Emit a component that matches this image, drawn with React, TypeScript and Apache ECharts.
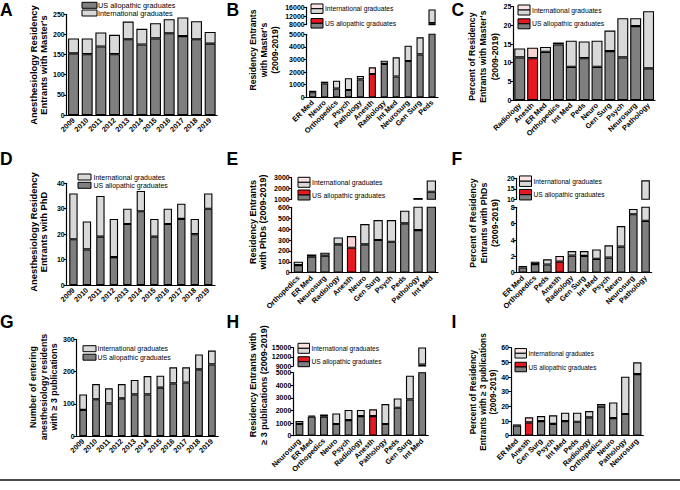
import React, { useEffect, useRef } from 'react';
import * as echarts from 'echarts';

// ---- data ----
const years = ['2009', '2010', '2011', '2012', '2013', '2014', '2015', '2016', '2017', '2018', '2019'];

// A: anesthesiology entrants with master's
const aUS = [153, 151, 170, 151, 188, 175, 190, 203, 196, 188, 177];
const aIntl = [37, 39, 35, 48, 44, 39, 38, 35, 46, 45, 29];

// B: residency entrants with master's by specialty
const bCats = ['ER Med', 'Neuro', 'Orthopedics', 'Psych', 'Pathology', 'Anesth', 'Radiology', 'Int Med', 'Neurosurg', 'Gen Surg', 'Peds'];
const bUS = [400, 1100, 700, 580, 1420, 1850, 2650, 1650, 2880, 3400, 8700];
const bIntl = [120, 140, 620, 930, 270, 530, 260, 1520, 1220, 1360, 6300];

// C: percent with master's
const cCats = ['Radiology', 'Anesth', 'ER Med', 'Orthopedics', 'Int Med', 'Peds', 'Neuro', 'Gen Surg', 'Psych', 'Neurosurg', 'Pathology'];
const cUS = [11.4, 11.2, 12.9, 14.9, 8.9, 11.2, 8.9, 13.1, 11.4, 19.8, 8.5];
const cIntl = [2.4, 2.8, 1.3, 0.5, 7.0, 4.5, 7.0, 5.5, 10.5, 2.1, 15.3];

// D: anesthesiology entrants with PhD
const dUS = [18, 14, 19, 11, 24, 29, 19, 24, 26, 20, 30];
const dIntl = [18, 11, 16, 15, 6, 8, 7, 6, 6, 6, 6];

// E: residency entrants with PhDs
const eCats = ['Orthopedics', 'ER Med', 'Neurosurg', 'Radiology', 'Anesth', 'Neuro', 'Gen Surg', 'Psych', 'Peds', 'Pathology', 'Int Med'];
const eUS = [70, 147, 156, 260, 229, 260, 300, 284, 453, 391, 1700];
const eIntl = [31, 21, 27, 64, 107, 186, 183, 199, 116, 729, 1050];

// F: percent with PhDs
const fCats = ['ER Med', 'Orthopedics', 'Peds', 'Anesth', 'Radiology', 'Gen Surg', 'Int Med', 'Psych', 'Neuro', 'Neurosurg', 'Pathology'];
const fUS = [0.65, 1.05, 1.0, 1.35, 2.1, 2.05, 1.7, 1.85, 3.2, 7.15, 6.35];
const fIntl = [0.17, 0.3, 0.63, 0.7, 0.55, 0.6, 1.15, 1.5, 2.5, 0.65, 12.7];

// G: anesthesiology entrants with >= 3 publications
const gUS = [81, 114, 101, 117, 129, 129, 150, 163, 166, 207, 222];
const gIntl = [48, 47, 47, 44, 45, 57, 37, 50, 47, 46, 43];

// H: residency entrants with >= 3 publications
const hCats = ['Neurosurg', 'ER Med', 'Orthopedics', 'Neuro', 'Psych', 'Radiology', 'Anesth', 'Pathology', 'Peds', 'Gen Surg', 'Int Med'];
const hUS = [930, 1510, 1510, 930, 1240, 1560, 1560, 930, 2220, 2880, 9500];
const hIntl = [230, 80, 180, 840, 800, 480, 530, 1580, 740, 1880, 5600];

// I: percent with >= 3 publications
const iCats = ['ER Med', 'Anesth', 'Gen Surg', 'Psych', 'Int Med', 'Peds', 'Radiology', 'Orthopedics', 'Neuro', 'Pathology', 'Neurosurg'];
const iUS = [6.8, 9.1, 10, 8, 10, 9.5, 12.5, 19.8, 12, 14.8, 42];
const iIntl = [0.9, 3.4, 3.4, 5.9, 5.7, 6.2, 4.3, 1.8, 10.7, 25.4, 8];

const US_LABEL = 'US allopathic graduates';
const INTL_LABEL = 'International graduates';

// ---- styles ----
const BLACK = '#000';
const DARK = '#7f7f7f';
const LIGHT = '#d9d9d9';
const RED = '#e5191f';
const PINK = '#f6d2d2';
const PINK_LEG = '#fbe4e4';
const FONT = 'Arial, "Liberation Sans", Helvetica, sans-serif';

type Panel = {
  box: number[];
  cats: string[];
  us: number[];
  intl: number[];
  y: number[];
  bw: string;
  showX?: boolean;
};

function buildOption() {
  const grid: any[] = [];
  const xAxis: any[] = [];
  const yAxis: any[] = [];
  const series: any[] = [];

  const add = (p: Panel) => {
    const i = grid.length;
    grid.push({ left: p.box[0], top: p.box[1], width: p.box[2], height: p.box[3] });
    xAxis.push({
      type: 'category',
      gridIndex: i,
      data: p.cats,
      show: p.showX !== false,
      axisLine: { lineStyle: { color: BLACK, width: 1.2 } },
      axisTick: { alignWithLabel: true, length: 3, lineStyle: { color: BLACK, width: 1 } },
      axisLabel: {
        interval: 0, rotate: 45, margin: 4, fontSize: 7.4,
        fontWeight: 'bold', color: BLACK, fontFamily: FONT,
      },
    });
    yAxis.push({
      type: 'value',
      gridIndex: i,
      min: p.y[0],
      max: p.y[1],
      interval: p.y[2],
      splitLine: { show: false },
      axisLine: { show: true, lineStyle: { color: BLACK, width: 1.2 } },
      axisTick: { show: true, length: 3, lineStyle: { color: BLACK, width: 1 } },
      axisLabel: {
        margin: 2, fontSize: 7, fontWeight: 'bold', color: BLACK, fontFamily: FONT,
        formatter: (v: number) => String(v),
      },
    });
    const base = {
      type: 'bar', xAxisIndex: i, yAxisIndex: i, stack: 'g' + i,
      barWidth: p.bw, clip: true, silent: true,
    };
    series.push({
      ...base,
      name: US_LABEL,
      itemStyle: { color: DARK, borderColor: BLACK, borderWidth: 1.1 },
      data: p.us.map((v, k) => (p.cats[k] === 'Anesth' ? { value: v, itemStyle: { color: RED } } : v)),
    });
    series.push({
      ...base,
      name: INTL_LABEL,
      itemStyle: { color: LIGHT, borderColor: BLACK, borderWidth: 1.1 },
      data: p.intl.map((v, k) => (p.cats[k] === 'Anesth' ? { value: v, itemStyle: { color: PINK } } : v)),
    });
  };

  add({ box: [66.7, 14.3, 150.3, 100.7], cats: years, us: aUS, intl: aIntl, y: [0, 250, 50], bw: '80%' });
  add({ box: [306.7, 34.3, 131.3, 63], cats: bCats, us: bUS, intl: bIntl, y: [0, 5000, 1000], bw: '60%' });
  add({ box: [306.7, 7.3, 131.3, 17.4], cats: bCats, us: bUS, intl: bIntl, y: [8000, 16000, 4000], bw: '60%', showX: false });
  add({ box: [513.3, 6.7, 141.7, 93.3], cats: cCats, us: cUS, intl: cIntl, y: [0, 25, 5], bw: '85%' });
  add({ box: [66.7, 183.3, 148.3, 101.7], cats: years, us: dUS, intl: dIntl, y: [0, 40, 10], bw: '62%' });
  add({ box: [291.7, 207.3, 146.3, 65.4], cats: eCats, us: eUS, intl: eIntl, y: [0, 600, 100], bw: '70%' });
  add({ box: [291.7, 177.7, 146.3, 21.6], cats: eCats, us: eUS, intl: eIntl, y: [1000, 3000, 1000], bw: '70%', showX: false });
  add({ box: [516.7, 207.3, 135, 65.4], cats: fCats, us: fUS, intl: fIntl, y: [0, 8, 2], bw: '70%' });
  add({ box: [516.7, 178.3, 135, 21], cats: fCats, us: fUS, intl: fIntl, y: [10, 20, 5], bw: '70%', showX: false });
  add({ box: [76.7, 339.3, 141.6, 96.7], cats: years, us: gUS, intl: gIntl, y: [0, 300, 100], bw: '60%' });
  add({ box: [293.3, 372.7, 135, 63], cats: hCats, us: hUS, intl: hIntl, y: [0, 5000, 1000], bw: '64%' });
  add({ box: [293.3, 347.7, 135, 18.3], cats: hCats, us: hUS, intl: hIntl, y: [9000, 15000, 3000], bw: '64%', showX: false });
  add({ box: [511, 347.7, 132.3, 88], cats: iCats, us: iUS, intl: iIntl, y: [0, 60, 10], bw: '69%' });

  // ---- annotations ----
  const txt = (x: number, y: number, text: string, size: number, extra: any = {}, rotation = 0) => ({
    type: 'text', x, y, rotation, silent: true,
    style: { text, fontSize: size, fontFamily: FONT, fill: BLACK, ...extra },
  });
  const rect = (x: number, y: number, w: number, h: number, fill: string) => ({
    type: 'rect', silent: true,
    shape: { x, y, width: w, height: h },
    style: { fill, stroke: BLACK, lineWidth: 1 },
  });
  const legendItem = (x: number, yc: number, w: number, h: number, top: string, bottom: string,
    label: string, tx: number, fs: number) => {
    const els: any[] = [];
    if (top === bottom) els.push(rect(x, yc - h / 2, w, h, top));
    else {
      els.push(rect(x, yc - h / 2, w, h / 2, top));
      els.push(rect(x, yc, w, h / 2, bottom));
    }
    els.push(txt(tx, yc, label, fs, { align: 'left', verticalAlign: 'middle' }));
    return els;
  };
  const letter = (x: number, y: number, t: string) =>
    txt(x, y, t, 17.5, { fontWeight: 'bold', align: 'left', verticalAlign: 'middle' });
  const yTitle = (x: number, y: number, t: string, size: number, lh: number) =>
    txt(x, y, t, size, { fontWeight: 'bold', align: 'center', verticalAlign: 'middle', lineHeight: lh }, Math.PI / 2);

  const graphic: any[] = [
    letter(0, 10, 'A'), letter(226.5, 10, 'B'), letter(451.5, 10, 'C'),
    letter(0, 158.5, 'D'), letter(226.5, 158.5, 'E'), letter(451.5, 158.5, 'F'),
    letter(0, 321.5, 'G'), letter(226.5, 321.5, 'H'), letter(451.5, 321.5, 'I'),

    yTitle(38, 65, "Anesthesiology Residency\nEntrants with Master's", 9.4, 10),
    yTitle(264, 50, "Residency Entrants\nwith Master's\n(2009-2019)", 8.7, 10.8),
    yTitle(483.3, 56.7, "Percent of Residency\nEntrants with Master's\n(2009-2019)", 8.7, 11.5),
    yTitle(38, 232, 'Anesthesiology Residency\nEntrants with PhD', 9.4, 10),
    yTitle(258.3, 222, 'Residency Entrants\nwith PhDs (2009-2019)', 9, 10),
    yTitle(483.7, 223, 'Percent of Residency\nEntrants with PhDs\n(2009-2019)', 8.8, 11),
    yTitle(43.9, 387, 'Number of entering\nanesthesiology residents\nwith ≥ 3 publications', 8.9, 10.5),
    yTitle(258.8, 385, 'Residency Entrants with\n≥ 3 publications (2009-2019)', 9, 11),
    yTitle(483.1, 392, 'Percent of Residency\nEntrants with ≥ 3 publications\n(2009-2019)', 8.3, 10.3),

    ...legendItem(82, 5.3, 15, 6, DARK, DARK, US_LABEL, 98, 7.3),
    ...legendItem(82, 13, 15, 6, LIGHT, LIGHT, INTL_LABEL, 98, 7.3),
    ...legendItem(311, 8.7, 12, 9.5, PINK_LEG, LIGHT, INTL_LABEL, 325, 6.7),
    ...legendItem(311, 23.3, 12, 9.5, RED, DARK, US_LABEL, 325, 6.7),
    ...legendItem(518, 10, 12, 10, PINK_LEG, LIGHT, INTL_LABEL, 532, 6.8),
    ...legendItem(518, 23.8, 12, 10, RED, DARK, US_LABEL, 532, 6.8),
    ...legendItem(78, 177, 13, 6, LIGHT, LIGHT, INTL_LABEL, 93.5, 7),
    ...legendItem(78, 185.3, 13, 6, DARK, DARK, US_LABEL, 93.5, 7),
    ...legendItem(298, 182.3, 12, 10, PINK_LEG, LIGHT, INTL_LABEL, 312, 6.9),
    ...legendItem(298, 195, 12, 10, RED, DARK, US_LABEL, 312, 6.9),
    ...legendItem(519.5, 181.2, 12, 10.5, PINK_LEG, LIGHT, INTL_LABEL, 533.5, 6.7),
    ...legendItem(519.5, 194.7, 12, 10.5, RED, DARK, US_LABEL, 533.5, 6.7),
    ...legendItem(83, 348.7, 13, 6, LIGHT, LIGHT, INTL_LABEL, 97.5, 6.9),
    ...legendItem(83, 357.2, 13, 6, DARK, DARK, US_LABEL, 97.5, 6.9),
    ...legendItem(298, 348.3, 11.5, 10, PINK_LEG, LIGHT, INTL_LABEL, 311.5, 6.6),
    ...legendItem(298, 361.7, 11.5, 10, RED, DARK, US_LABEL, 311.5, 6.6),
    ...legendItem(515, 353.3, 11.5, 9.5, PINK_LEG, LIGHT, INTL_LABEL, 528.5, 6.4),
    ...legendItem(515, 367, 11.5, 9.5, RED, DARK, US_LABEL, 528.5, 6.4),

    {
      type: 'line', silent: true,
      shape: { x1: 0, y1: 480, x2: 680, y2: 480 },
      style: { stroke: '#4a4a4a', lineWidth: 2 },
    },
  ];

  return {
    animation: false,
    backgroundColor: '#fff',
    grid,
    xAxis,
    yAxis,
    series,
    graphic,
  };
}

export default function App() {
  const chartRef = useRef<HTMLDivElement>(null);

  useEffect(() => {
    if (!chartRef.current) return;
    document.body.style.margin = '0';
    const chart = echarts.init(chartRef.current, undefined, { renderer: 'svg' });
    chart.setOption(buildOption());
    return () => {
      chart.dispose();
    };
  }, []);

  return <div ref={chartRef} style={{ width: 680, height: 490 }} />;
}
